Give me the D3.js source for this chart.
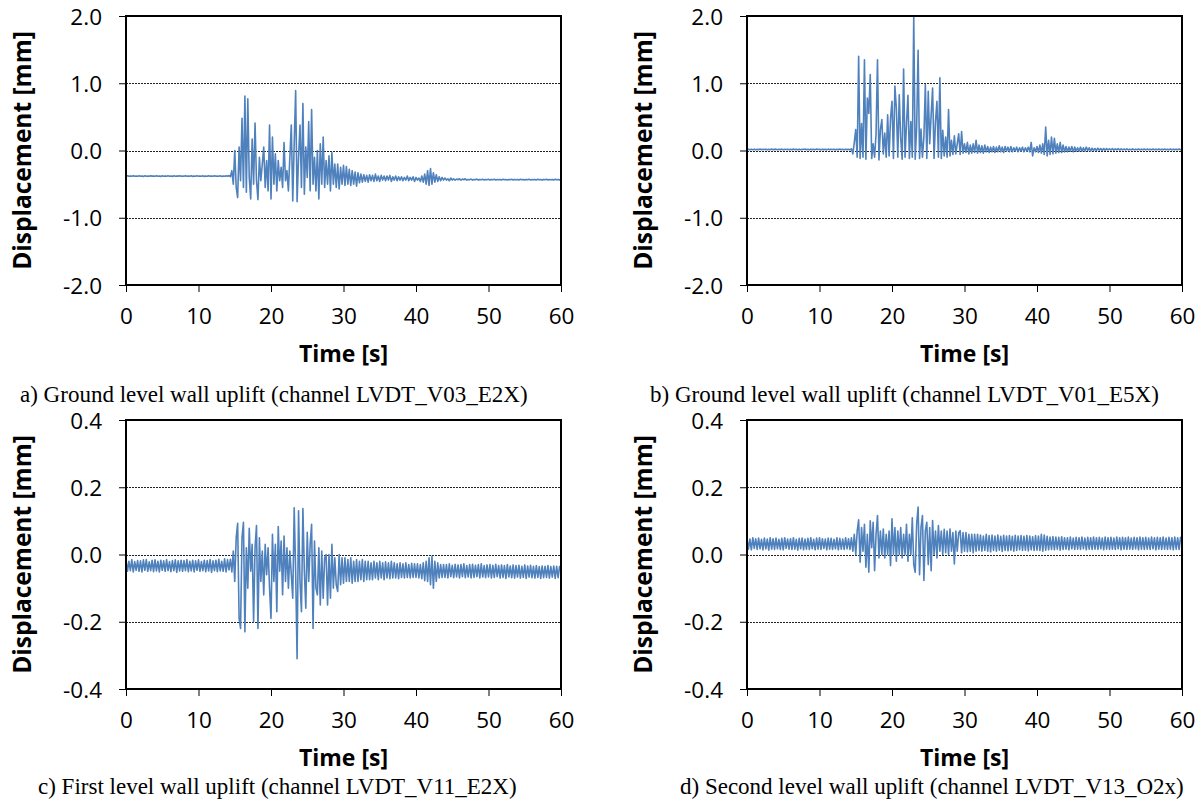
<!DOCTYPE html>
<html><head><meta charset="utf-8">
<script src="https://cdn.jsdelivr.net/npm/d3@7"></script>
<style>body{margin:0;background:#fff}svg{display:block}</style>
</head><body>
<svg id="chart" width="1201" height="811"></svg>
<script>
// sampling interval of every series (s); first sample at t = 0
const timeStep = 0.2;
const timeTicks = [0, 10, 20, 30, 40, 50, 60];
const dispTicksGround = [-2, -1, 0, 1, 2];
const dispTicksUpper = [-0.4, -0.2, 0, 0.2, 0.4];
const xTitle = "Time [s]";
const yTitle = "Displacement [mm]";
const captions = [
  "a) Ground level wall uplift (channel LVDT_V03_E2X)",
  "b) Ground level wall uplift (channel LVDT_V01_E5X)",
  "c) First level wall uplift (channel LVDT_V11_E2X)",
  "d) Second level wall uplift (channel LVDT_V13_O2x)"
];

// a) LVDT_V03_E2X [mm]
const seriesV03 = [
-.38,-.376,-.384,-.378,-.383,-.375,-.384,-.379,-.382,-.377,
-.383,-.378,-.385,-.376,-.382,-.379,-.384,-.377,-.381,-.378,
-.384,-.376,-.383,-.379,-.385,-.377,-.382,-.378,-.384,-.376,
-.382,-.379,-.385,-.377,-.383,-.378,-.381,-.376,-.384,-.379,
-.383,-.377,-.384,-.378,-.382,-.376,-.385,-.379,-.383,-.377,
-.384,-.378,-.382,-.377,-.385,-.379,-.383,-.376,-.384,-.378,
-.382,-.377,-.384,-.379,-.383,-.376,-.385,-.378,-.382,-.377,
-.384,-.372,-.39,-.30,-.50,0,-.55,-.70,.05,-.45,
.48,-.55,.81,-.62,.77,-.40,-.72,.17,-.50,.41,
-.45,-.73,-.10,-.45,-.20,.05,-.55,-.15,-.60,.38,
-.72,.20,-.50,-.05,-.60,-.15,-.45,-.25,-.55,.12,
-.45,-.30,-.60,-.10,.38,-.75,.10,.89,-.76,-.10,
.38,-.55,.70,-.65,.05,-.40,.43,-.60,.61,-.50,
-.10,-.60,0,-.72,.10,-.50,.20,-.55,-.15,-.50,
-.08,-.60,-.03,-.50,-.20,-.55,-.20,-.57,-.25,-.50,
-.22,-.52,-.24,-.50,-.28,-.52,-.30,-.50,-.32,-.53,
-.33,-.48,-.35,-.47,-.36,-.46,-.37,-.47,-.36,-.45,
-.37,-.46,-.35,-.45,-.38,-.46,-.37,-.44,-.38,-.45,
-.38,-.44,-.37,-.46,-.39,-.44,-.38,-.45,-.39,-.44,
-.39,-.45,-.40,-.44,-.38,-.45,-.40,-.44,-.39,-.46,
-.40,-.44,-.41,-.46,-.38,-.47,-.35,-.50,-.30,-.52,
-.27,-.50,-.33,-.47,-.36,-.46,-.39,-.45,-.40,-.44,
-.41,-.44,-.42,-.45,-.41,-.44,-.42,-.44,-.425,-.435,
-.42,-.44,-.425,-.435,-.42,-.44,-.43,-.435,-.425,-.44,
-.43,-.435,-.425,-.44,-.43,-.435,-.428,-.437,-.43,-.434,
-.428,-.437,-.431,-.435,-.429,-.438,-.432,-.436,-.43,-.437,
-.429,-.436,-.431,-.438,-.43,-.435,-.428,-.437,-.432,-.436,
-.43,-.438,-.429,-.436,-.431,-.437,-.43,-.435,-.429,-.438,
-.431,-.436,-.43,-.437,-.428,-.435,-.432,-.438,-.43,-.436,
-.429,-.437,-.431,-.435,-.43,-.438,-.429,-.436,-.431,-.437,
-.432
];

// b) LVDT_V01_E5X [mm]
const seriesV01 = [
.015,.02,.01,.018,.012,.02,.01,.017,.013,.021,
.011,.019,.014,.02,.01,.018,.012,.021,.013,.017,
.02,.011,.018,.013,.021,.01,.017,.014,.02,.012,
.018,.011,.021,.013,.019,.01,.02,.012,.017,.014,
.021,.012,.018,.01,.02,.013,.019,.011,.021,.014,
.017,.011,.02,.013,.018,.01,.021,.012,.019,.014,
.02,.01,.018,.013,.021,.011,.019,.012,.02,.013,
.018,.01,.025,-.05,.12,.31,-.10,1.40,-.12,.40,
-.10,1.35,-.13,.78,.55,1.13,-.12,.10,-.10,.25,
1.35,-.14,.31,.46,-.05,.26,-.10,.53,-.08,.48,
.73,-.12,.96,.63,-.10,.83,.18,-.13,1.21,-.10,
.40,.82,-.12,.43,-.10,2.00,-.13,.35,1.49,-.12,
.32,-.10,.20,.98,-.12,.88,.10,.53,.93,-.12,
.43,.73,-.10,1.08,-.12,.30,-.08,.20,-.10,.61,
-.08,.15,-.06,.22,-.05,.10,.25,-.06,.28,-.04,
.10,-.03,.12,-.05,.08,-.04,.10,-.03,.15,-.04,
.08,-.03,.07,-.04,.08,-.02,.06,-.03,.05,-.02,
.06,-.03,.05,-.02,.07,-.02,.05,-.03,.06,-.01,
.05,-.02,.06,-.02,.04,-.01,.05,-.02,.04,-.01,
.05,-.02,.04,-.01,.05,-.02,.12,-.08,.04,-.02,
.06,-.03,.08,-.04,.10,-.06,.35,-.08,.15,-.06,
.20,-.05,.18,-.04,.10,-.03,.12,-.03,.08,-.02,
.06,-.02,.05,-.01,.06,-.02,.05,-.01,.04,-.01,
.05,-.01,.04,-.01,.05,0,.04,-.01,.035,0,
.03,0,.035,.005,.03,0,.03,.005,.028,.008,
.025,.008,.028,.006,.024,.009,.027,.007,.025,.01,
.022,.009,.025,.008,.021,.01,.024,.009,.02,.011,
.022,.01,.02,.012,.023,.01,.021,.011,.02,.012,
.021,.011,.02,.012,.022,.01,.02,.013,.021,.011,
.02,.012,.021,.011,.019,.013,.02,.012,.021,.011,
.016
];

// c) LVDT_V11_E2X [mm]
const seriesV11 = [
-.017,-.05,-.02,-.048,-.015,-.052,-.021,-.047,-.018,-.05,
-.019,-.052,-.016,-.047,-.015,-.05,-.022,-.048,-.017,-.051,
-.016,-.049,-.02,-.052,-.017,-.047,-.019,-.05,-.015,-.048,
-.021,-.051,-.018,-.048,-.016,-.053,-.019,-.049,-.017,-.05,
-.018,-.048,-.015,-.051,-.02,-.049,-.017,-.052,-.019,-.047,
-.016,-.05,-.021,-.048,-.017,-.051,-.018,-.049,-.015,-.053,
-.019,-.048,-.017,-.051,-.014,-.049,-.02,-.05,-.013,-.052,
-.015,-.046,-.014,-.052,.01,-.08,.05,.093,-.19,-.22,
.05,.096,-.23,.02,-.10,.078,-.05,.03,-.20,.02,
.086,-.22,.05,-.08,.01,-.12,.03,-.06,.02,-.10,
-.19,.06,-.08,.03,-.17,.083,-.05,.04,-.12,.055,
-.08,.02,-.10,.01,-.06,-.13,.139,-.05,-.31,.13,
-.08,-.17,.137,-.05,-.16,.066,-.08,.03,.09,-.22,
.04,-.10,-.12,.02,-.15,.01,-.13,-.01,0,-.15,
0,-.13,.03,-.10,-.01,-.09,-.11,0,-.09,-.01,
-.085,-.01,-.08,-.015,-.08,-.01,-.085,-.02,-.08,-.015,
-.08,-.02,-.075,-.015,-.08,-.02,-.075,-.02,-.075,-.025,
-.075,-.02,-.07,-.025,-.075,-.02,-.07,-.025,-.075,-.022,
-.07,-.025,-.072,-.02,-.07,-.025,-.07,-.028,-.072,-.025,
-.068,-.028,-.07,-.025,-.068,-.03,-.07,-.026,-.068,-.028,
-.068,-.028,-.07,-.03,-.072,-.025,-.078,-.02,-.08,-.01,
-.09,-.005,-.1,-.02,-.08,-.025,-.07,-.03,-.068,-.03,
-.068,-.03,-.07,-.028,-.066,-.032,-.069,-.029,-.067,-.031,
-.07,-.03,-.066,-.028,-.069,-.033,-.067,-.03,-.07,-.029,
-.068,-.032,-.066,-.03,-.07,-.028,-.067,-.033,-.069,-.031,
-.067,-.03,-.07,-.032,-.068,-.029,-.066,-.033,-.07,-.031,
-.068,-.033,-.071,-.03,-.067,-.034,-.069,-.031,-.07,-.033,
-.067,-.032,-.07,-.035,-.068,-.031,-.071,-.034,-.067,-.032,
-.069,-.035,-.07,-.033,-.068,-.036,-.071,-.034,-.069,-.035,
-.068,-.033,-.07,-.036,-.067,-.034,-.071,-.035,-.069,-.036,
-.05
];

// d) LVDT_V13_O2x [mm]
const seriesV13 = [
.048,.016,.046,.014,.05,.018,.047,.015,.049,.017,
.045,.014,.049,.017,.046,.013,.05,.016,.047,.015,
.049,.017,.045,.015,.048,.014,.05,.018,.046,.016,
.047,.015,.05,.016,.045,.013,.048,.017,.049,.014,
.046,.016,.048,.015,.05,.017,.045,.014,.049,.016,
.05,.015,.047,.018,.046,.014,.049,.016,.048,.015,
.045,.017,.05,.014,.048,.016,.046,.015,.05,.017,
.047,.015,.05,.01,.06,0,.07,.103,-.023,.08,
.01,.09,-.038,.06,-.053,.10,.02,.096,-.048,.06,
.116,-.01,.07,0,.076,-.01,.06,0,.07,-.033,
.106,0,.08,-.02,.07,0,.08,-.01,.06,0,
.09,-.02,.06,0,.109,-.03,-.053,.09,.141,-.06,
.08,.116,-.077,.07,.096,-.03,.08,-.048,.101,0,
.07,-.01,.086,.01,.07,0,.075,.005,.07,0,
.076,.01,.065,-.028,.07,.01,.065,.071,.005,.065,
.01,.065,.008,.06,.01,.06,.005,.06,.01,.06,
.012,.058,.01,.055,.012,.06,.01,.056,.008,.058,
.012,.055,.01,.058,.013,.054,.009,.057,.012,.055,
.011,.056,.013,.054,.01,.057,.012,.055,.014,.056,
.012,.054,.013,.056,.011,.055,.014,.053,.012,.056,
.013,.055,.012,.06,.01,.058,.013,.054,.014,.052,
.015,.053,.014,.052,.016,.051,.013,.053,.015,.05,
.016,.05,.014,.052,.017,.049,.015,.051,.016,.05,
.015,.052,.017,.049,.014,.051,.016,.05,.015,.052,
.016,.05,.015,.051,.017,.049,.014,.052,.016,.05,
.015,.051,.016,.049,.015,.052,.017,.05,.014,.051,
.016,.05,.015,.052,.016,.049,.015,.051,.017,.05,
.014,.052,.016,.05,.015,.051,.016,.049,.015,.052,
.017,.05,.014,.051,.016,.05,.015,.052,.016,.049,
.015,.051,.016,.05,.014,.052,.016,.05,.015,.051,
.033
];

const panels = [
  {data: seriesV03, ticks: dispTicksGround, cap: captions[0], left: 126, top: 16, titleX: 31, capX: 20, capDy: 117},
  {data: seriesV01, ticks: dispTicksGround, cap: captions[1], left: 747, top: 16, titleX: 652, capX: 650, capDy: 117},
  {data: seriesV11, ticks: dispTicksUpper, cap: captions[2], left: 126, top: 420, titleX: 31, capX: 38, capDy: 105},
  {data: seriesV13, ticks: dispTicksUpper, cap: captions[3], left: 747, top: 420, titleX: 652, capX: 680, capDy: 105}
];
const W = 435, H = 269;
const svg = d3.select("#chart");
const sans = "'Open Sans', sans-serif";

panels.forEach(p => {
  const g = svg.append("g");
  const x = d3.scaleLinear().domain([timeTicks[0], timeTicks[timeTicks.length-1]]).range([p.left, p.left + W]);
  const y = d3.scaleLinear().domain([p.ticks[0], p.ticks[p.ticks.length-1]]).range([p.top + H, p.top]);

  // gridlines (interior ticks)
  g.selectAll("line.grid").data(p.ticks.slice(1, -1)).join("line")
    .attr("x1", p.left).attr("x2", p.left + W)
    .attr("y1", d => Math.round(y(d)) + 0.5).attr("y2", d => Math.round(y(d)) + 0.5)
    .attr("stroke", "#222").attr("stroke-width", 1).attr("stroke-dasharray", "2,1");

  // series
  const line = d3.line().x((d, i) => x(i * timeStep)).y(d => y(d));
  g.append("path").datum(p.data).attr("d", line)
    .attr("fill", "none").attr("stroke", "#4f81bd").attr("stroke-width", 1.6)
    .attr("stroke-linejoin", "round");

  // frame
  g.append("rect").attr("x", p.left).attr("y", p.top).attr("width", W).attr("height", H)
    .attr("fill", "none").attr("stroke", "#000").attr("stroke-width", 2);

  // axes
  const yAxis = d3.axisLeft(y).tickValues(p.ticks).tickSize(7).tickPadding(17)
    .tickFormat(d => d.toFixed(1));
  const ya = g.append("g").attr("transform", `translate(${p.left},0)`).call(yAxis);
  const xAxis = d3.axisBottom(x).tickValues(timeTicks).tickSize(7).tickPadding(16).tickFormat(d => String(d));
  const xa = g.append("g").attr("transform", `translate(0,${p.top + H})`).call(xAxis);
  [ya, xa].forEach(a => {
    a.select(".domain").remove();
    a.selectAll(".tick line").attr("stroke", "#000");
    a.selectAll("text").attr("font-family", sans).attr("font-size", 22.5).attr("fill", "#000");
  });
  ya.selectAll(".tick text").attr("dy", "0.36em");
  xa.selectAll(".tick text").attr("dy", "0.71em");

  // axis titles
  g.append("text").text(xTitle)
    .attr("x", p.left + W / 2).attr("y", p.top + H + 77).attr("text-anchor", "middle")
    .attr("font-family", sans).attr("font-weight", "bold").attr("font-size", 23);
  g.append("text").text(yTitle)
    .attr("transform", `translate(${p.titleX},${p.top + H / 2}) rotate(-90)`)
    .attr("text-anchor", "middle")
    .attr("font-family", sans).attr("font-weight", "bold").attr("font-size", 24.5);

  // caption
  g.append("text").text(p.cap)
    .attr("x", p.capX).attr("y", p.top + H + p.capDy)
    .attr("font-family", "'Liberation Serif', 'Times New Roman', serif").attr("font-size", 23);
});
</script>
</body></html>
